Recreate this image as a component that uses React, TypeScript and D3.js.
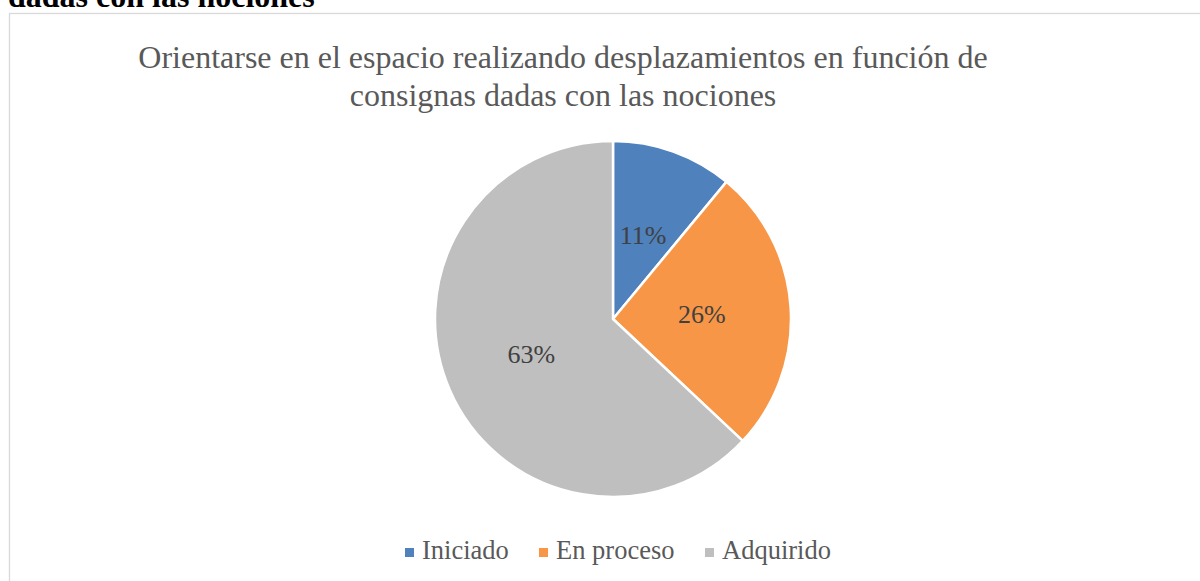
import { useEffect, useRef } from 'react';
import * as d3 from 'd3';

const categories = ['Iniciado', 'En proceso', 'Adquirido'];
const values = [11, 26, 63];
const colors = ['#4F81BD', '#F79646', '#BFBFBF'];
const titleLines = [
  'Orientarse en el espacio realizando desplazamientos en función de',
  'consignas dadas con las nociones',
];
const headingText = 'dadas con las nociones';

export default function App() {
  const svgRef = useRef<SVGSVGElement>(null);

  useEffect(() => {
    if (!svgRef.current) return;
    const svg = d3.select(svgRef.current);
    svg.selectAll('*').remove();

    const width = 1200;
    const height = 581;
    const font = '"Liberation Serif", "Times New Roman", Times, serif';

    svg.attr('width', width).attr('height', height);

    svg.append('rect')
      .attr('width', width)
      .attr('height', height)
      .style('fill', '#ffffff');

    // cropped heading from the document above the chart
    svg.append('text')
      .attr('x', 8)
      .attr('y', 7)
      .style('font-family', font)
      .style('font-weight', 'bold')
      .style('font-size', '32px')
      .style('fill', '#000000')
      .text(headingText);

    // chart frame
    svg.append('rect')
      .attr('x', 9.5)
      .attr('y', 13.5)
      .attr('width', width + 20)
      .attr('height', height + 20)
      .style('fill', 'none')
      .style('stroke', '#d9d9d9')
      .style('stroke-width', 1.3);

    // Title
    svg.append('g')
      .selectAll('text')
      .data(titleLines)
      .enter()
      .append('text')
      .attr('x', 563)
      .attr('y', (_d, i) => 68 + i * 38)
      .attr('text-anchor', 'middle')
      .style('font-family', font)
      .style('font-size', '32px')
      .style('fill', '#595959')
      .text(d => d);

    // Pie
    const cx = 613;
    const cy = 319;
    const radius = 178;

    const pie = d3.pie<number>().sort(null).value(d => d);
    const arcs = pie(values);
    const arc = d3.arc<d3.PieArcDatum<number>>().innerRadius(0).outerRadius(radius);

    const g = svg.append('g').attr('transform', `translate(${cx},${cy})`);

    g.selectAll('path')
      .data(arcs)
      .enter()
      .append('path')
      .attr('d', arc)
      .style('fill', (_d, i) => colors[i])
      .style('stroke', '#ffffff')
      .style('stroke-width', 2.5)
      .style('stroke-linejoin', 'round');

    g.selectAll('text.label')
      .data(arcs)
      .enter()
      .append('text')
      .attr('class', 'label')
      .attr('transform', d => {
        const [x, y] = arc.centroid(d);
        return `translate(${x},${y})`;
      })
      .attr('text-anchor', 'middle')
      .attr('dy', '0.35em')
      .style('font-family', font)
      .style('font-size', '26px')
      .style('fill', '#404040')
      .text(d => `${d.data}%`);

    // Legend
    const legendOffsets = [405, 539, 705];
    const legend = svg.append('g');
    categories.forEach((c, i) => {
      const x = legendOffsets[i];
      legend.append('rect')
        .attr('x', x)
        .attr('y', 548)
        .attr('width', 9)
        .attr('height', 9)
        .style('fill', colors[i]);
      legend.append('text')
        .attr('x', x + 17)
        .attr('y', 559)
        .style('font-family', font)
        .style('font-size', '26.5px')
        .style('fill', '#595959')
        .text(c);
    });
  }, []);

  return (
    <div style={{ position: 'absolute', left: 0, top: 0 }}>
      <svg ref={svgRef} style={{ display: 'block' }} />
    </div>
  );
}
